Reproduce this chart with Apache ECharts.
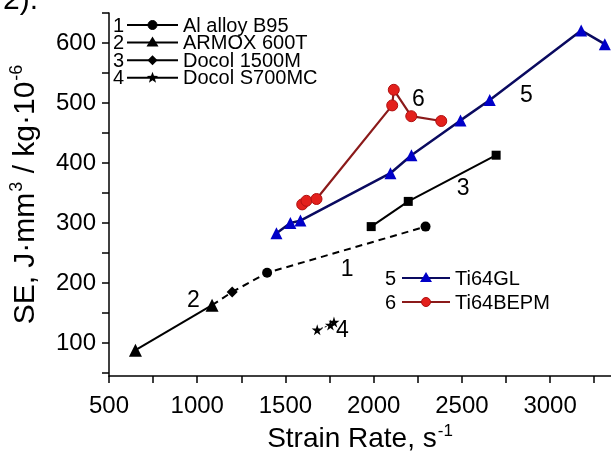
<!DOCTYPE html>
<html><head><meta charset="utf-8">
<script src="https://cdn.jsdelivr.net/npm/echarts@6/dist/echarts.min.js"></script>
<style>html,body{margin:0;padding:0;background:#fff}#c{width:611px;height:454px}</style>
</head><body><div id="c"></div>
<script>
// Data: [strain rate, SE]
const alB95 = [[1084,163],[1198,185],[1396,217],[2294,294]];
const armox = [[650,88],[1084,163]];
const docol1500 = [[1986,294],[2196,336],[2694,413]];
const docolS700 = [[1680,122],[1755,130],[1775,135]];
const ti64GL = [[1449,283],[1528,300],[1585,304],[2095,383],[2214,413],[2492,471],[2658,505],[3176,621],[3310,598]];
const ti64BEPM = [[1595,331],[1619,337],[1676,340],[2105,496],[2114,522],[2213,478],[2383,470]];
const curveLabels = [['1',1850,222],['2',979,171],['3',2507,358],['4',1823,121],['5',2865,512],['6',2254,505]];
const xLabelTicks = [500,1000,1500,2000,2500,3000];
const xMinorTicks = [500,750,1000,1250,1500,1750,2000,2250,2500,2750,3000,3250];
const yLabelTicks = [100,200,300,400,500,600];
const yMinorTicks = [50,100,150,200,250,300,350,400,450,500,550,600,650];
const legendTop = [['1','circle','Al alloy B95'],['2','triangle','ARMOX 600T'],['3','diamond','Docol 1500M'],['4','star','Docol S700MC']];
const legendBottom = [['5','triangle','Ti64GL'],['6','circle','Ti64BEPM']];

const STAR = 'path://M50,0 L61,35 L98,35 L68,57 L79,91 L50,70 L21,91 L32,57 L2,35 L39,35 Z';
const FONT = 'Liberation Sans, Arial, sans-serif';

const chart = echarts.init(document.getElementById('c'), null, {renderer:'canvas'});

const alData = alB95.map((p,i)=> i===0 ? {value:p, symbol:'none'} : (i===1 ? {value:p, symbol:'diamond', symbolSize:11} : {value:p}));

function starPoints(cx, cy, R){
  const pts = [];
  for (let k=0;k<10;k++){
    const r = k%2===0 ? R : R*0.42;
    const a = -Math.PI/2 + k*Math.PI/5;
    pts.push([cx + r*Math.cos(a), cy + r*Math.sin(a)]);
  }
  return pts;
}

function legendGraphics(rows, L, styles){
  const g = [];
  rows.forEach((r,i)=>{
    const y = L.y0 + i*L.dy;
    const st = styles[i];
    const ts = {font:'20px '+FONT, fill:'#000', verticalAlign:'middle', textVerticalAlign:'middle'};
    g.push({type:'text', x:L.numX, y:y+1, style:Object.assign({text:r[0]}, ts)});
    g.push({type:'line', shape:{x1:L.x1, y1:y, x2:L.x2, y2:y}, style:{stroke:st.line, lineWidth:2}});
    let sym;
    const cx = (L.x1+L.x2)/2, s = st.size;
    if (r[1]==='circle') sym = {type:'circle', shape:{cx:cx, cy:y, r:s/2}, style:{fill:st.fill, stroke:st.stroke||st.fill, lineWidth:1}};
    else if (r[1]==='triangle') sym = {type:'polygon', shape:{points:[[cx,y-s/2-1],[cx+s/2+1,y+s/2-1],[cx-s/2-1,y+s/2-1]]}, style:{fill:st.fill}};
    else if (r[1]==='diamond') sym = {type:'polygon', shape:{points:[[cx,y-s/2],[cx+s/2,y],[cx,y+s/2],[cx-s/2,y]]}, style:{fill:st.fill}};
    else sym = {type:'polygon', shape:{points:starPoints(cx, y, s/2+1)}, style:{fill:st.fill}};
    g.push(sym);
    g.push({type:'text', x:L.textX, y:y+1, style:Object.assign({text:r[2]}, ts)});
  });
  return g;
}

const graphics = [].concat(
  [{type:'text', x:3, y:-14, style:{text:'2).', font:'30px '+FONT, fill:'#000'}}],
  legendGraphics(legendTop, {numX:113, x1:127, x2:178, textX:183, y0:25, dy:17.6}, [
    {line:'#000', fill:'#000', size:9},{line:'#000', fill:'#000', size:10},{line:'#000', fill:'#000', size:10},{line:'#000', fill:'#000', size:10}]),
  legendGraphics(legendBottom, {numX:385, x1:402, x2:450, textX:455, y0:278, dy:24}, [
    {line:'#0a0a60', fill:'#0000c8', size:10},{line:'#8b1a1a', fill:'#e3201c', stroke:'#b01010', size:9}])
);

const supX = {fontSize:17, verticalAlign:'top', padding:[0,0,16,1], color:'#000', fontFamily:FONT};
const supY = {fontSize:18, verticalAlign:'top', padding:[0,0,17,1], color:'#000', fontFamily:FONT};

const option = {
  animation:false,
  backgroundColor:'#fff',
  textStyle:{fontFamily:FONT},
  grid:{left:109, right:0, top:13, bottom:78, containLabel:false, outerBoundsMode:'none'},
  xAxis:{
    type:'value', min:500, max:3345,
    name:'Strain Rate, s{sup|-1}', nameLocation:'middle', nameGap:44,
    nameTextStyle:{fontSize:28, color:'#000', fontFamily:FONT, rich:{sup:supX}},
    axisLine:{show:true, lineStyle:{color:'#000', width:1.5}},
    axisTick:{show:true, inside:false, length:7, customValues:xMinorTicks, lineStyle:{color:'#000', width:1.5}},
    axisLabel:{customValues:xLabelTicks, formatter:v=>String(v), fontSize:24, color:'#000', margin:18, fontFamily:FONT},
    splitLine:{show:false}
  },
  yAxis:{
    type:'value', min:45, max:650,
    name:'SE, J·mm{sup|3} / kg·10{sup|-6}', nameLocation:'middle', nameGap:66,
    nameTextStyle:{fontSize:30, color:'#000', fontFamily:FONT, rich:{sup:supY}},
    axisLine:{show:true, lineStyle:{color:'#000', width:1.5}},
    axisTick:{show:true, inside:false, length:7, customValues:yMinorTicks, lineStyle:{color:'#000', width:1.5}},
    axisLabel:{customValues:yLabelTicks, formatter:v=>String(v), fontSize:24, color:'#000', margin:13, fontFamily:FONT},
    splitLine:{show:false}
  },
  series:[
    {name:'Al alloy B95', type:'line', data:alData, symbol:'circle', symbolSize:10, itemStyle:{color:'#000'}, lineStyle:{color:'#000', width:2, type:[7,5]}, z:3},
    {name:'ARMOX 600T', type:'line', data:armox, symbol:'triangle', symbolSize:13, itemStyle:{color:'#000'}, lineStyle:{color:'#000', width:2}, z:4},
    {name:'Docol 1500M', type:'line', data:docol1500, symbol:'rect', symbolSize:9, itemStyle:{color:'#000'}, lineStyle:{color:'#000', width:2}},
    {name:'Docol S700MC', type:'line', data:docolS700, symbol:STAR, symbolSize:11, itemStyle:{color:'#000'}, lineStyle:{color:'#000', width:1, type:[2,2]}},
    {name:'Ti64GL', type:'line', data:ti64GL, symbol:'triangle', symbolSize:12, itemStyle:{color:'#0000c8'}, lineStyle:{color:'#0a0a60', width:2.5}},
    {name:'Ti64BEPM', type:'line', data:ti64BEPM, symbol:'circle', symbolSize:11, itemStyle:{color:'#e3201c', borderColor:'#b01010', borderWidth:1}, lineStyle:{color:'#8b1a1a', width:2.2}},
    {name:'labels', type:'custom', silent:true,
     data:curveLabels.map(l=>[l[1], l[2]]),
     renderItem:(params, api)=>{
       const p = api.coord([api.value(0), api.value(1)]);
       return {type:'text', x:p[0], y:p[1], style:{text:curveLabels[params.dataIndex][0], font:'23px '+FONT, fill:'#000', align:'center', verticalAlign:'middle'}};
     }}
  ],
  graphic:graphics
};
chart.setOption(option);
</script></body></html>
